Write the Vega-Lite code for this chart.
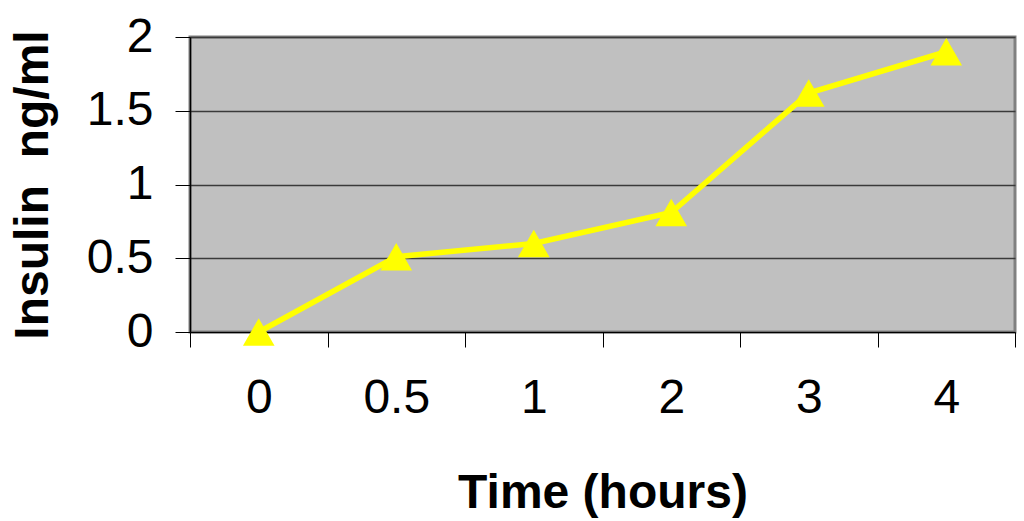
{
  "$schema": "https://vega.github.io/schema/vega-lite/v6.json",
  "width": 825,
  "height": 295,
  "autosize": {"type": "none"},
  "padding": {"left": 190, "top": 37, "right": 9, "bottom": 189},
  "background": "white",
  "config": {
    "font": "Liberation Sans",
    "view": {"fill": "#C0C0C0", "stroke": "#808080", "strokeWidth": 3}
  },
  "data": {
    "values": [
      {"time": "0", "insulin": 0},
      {"time": "0.5", "insulin": 0.51},
      {"time": "1", "insulin": 0.6},
      {"time": "2", "insulin": 0.81},
      {"time": "3", "insulin": 1.62},
      {"time": "4", "insulin": 1.9}
    ]
  },
  "encoding": {
    "x": {
      "field": "time",
      "type": "ordinal",
      "sort": null,
      "scale": {"type": "band", "paddingInner": 0, "paddingOuter": 0},
      "axis": {
        "title": "Time (hours)",
        "titleFont": "Liberation Sans",
        "titleFontSize": 48,
        "titleFontWeight": "bold",
        "titleColor": "black",
        "titleBaseline": "alphabetic",
        "titleY": 175,
        "labelAngle": 0,
        "labelFontSize": 48,
        "labelColor": "black",
        "labelPadding": 27,
        "tickBand": "extent",
        "tickSize": 15,
        "tickColor": "black",
        "tickWidth": 1,
        "domainColor": "black",
        "domainWidth": 1,
        "grid": false
      }
    },
    "y": {
      "field": "insulin",
      "type": "quantitative",
      "scale": {"domain": [0, 2], "nice": false, "zero": true},
      "axis": {
        "title": "Insulin \u00a0ng/ml",
        "titleFont": "Liberation Sans",
        "titleFontSize": 48,
        "titleFontWeight": "bold",
        "titleColor": "black",
        "titleX": -157,
        "titleBaseline": "middle",
        "values": [0, 0.5, 1, 1.5, 2],
        "labelFontSize": 48,
        "labelColor": "black",
        "labelPadding": 22,
        "tickSize": 15,
        "tickColor": "black",
        "tickWidth": 1,
        "domainColor": "black",
        "domainWidth": 1.5,
        "grid": true,
        "gridColor": "#3a3a3a",
        "gridWidth": 1.5,
        "format": "~g"
      }
    }
  },
  "layer": [
    {"mark": {"type": "line", "color": "#FFFF00", "strokeWidth": 5.5}},
    {"mark": {"type": "point", "shape": "triangle-up", "size": 1000, "filled": true, "color": "#FFFF00", "opacity": 1}}
  ]
}
